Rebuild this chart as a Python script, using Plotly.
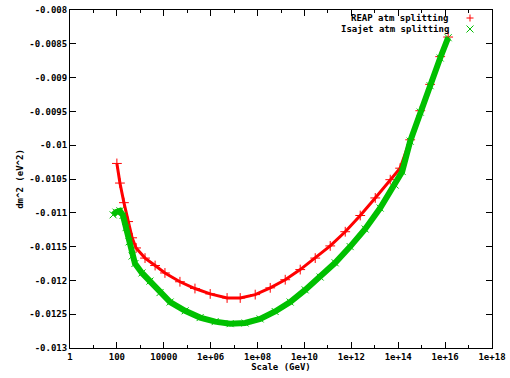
import plotly.graph_objects as go

# log10(Scale / GeV) and dm^2 (eV^2)
reap_log_scale = [2.0, 2.13, 2.30, 2.48, 2.65, 2.82, 3.2, 3.63, 4.05, 4.69, 5.33, 5.98, 6.7, 7.26,
                  7.9, 8.54, 9.18, 9.82, 10.46, 11.1, 11.74, 12.38, 13.02, 13.66, 14.08,
                  14.51, 14.94, 15.36, 15.79, 16.13]
reap_dm2 = [-0.01027, -0.01056, -0.01085, -0.01113, -0.01137, -0.01152, -0.01167, -0.01178, -0.01189,
            -0.01202, -0.01212, -0.0122, -0.01226, -0.01226, -0.01221, -0.01211, -0.01199, -0.01184,
            -0.01167, -0.01149, -0.01128, -0.01104, -0.01078, -0.01051, -0.01034,
            -0.00992, -0.00949, -0.0091, -0.00869, -0.0084]

isajet_log_scale = [1.84, 1.96, 2.13, 2.26, 2.39, 2.52, 2.65, 2.77, 3.07, 3.41, 3.84, 4.27, 4.91, 5.55,
                    6.19, 6.83, 7.47, 8.11, 8.75, 9.39, 10.03, 10.67, 11.31, 11.95, 12.59, 13.23,
                    13.87, 14.17, 14.51, 14.94, 15.36, 15.79, 16.13]
isajet_dm2 = [-0.01103, -0.01099, -0.01097, -0.01104, -0.01122, -0.01143, -0.01164, -0.01175, -0.01189,
              -0.01201, -0.01218, -0.01232, -0.01245, -0.01255, -0.01261, -0.01264, -0.01263, -0.01257,
              -0.01246, -0.01232, -0.01214, -0.01195, -0.01174, -0.0115, -0.01124, -0.01093,
              -0.01059, -0.01039, -0.00994, -0.00951, -0.00912, -0.00871, -0.00841]

x_tick_exps = [0, 2, 4, 6, 8, 10, 12, 14, 16, 18]
x_tick_labels = ["1", "100", "10000", "1e+06", "1e+08", "1e+10", "1e+12", "1e+14", "1e+16", "1e+18"]
x_minor_exps = [1, 3, 5, 7, 9, 11, 13, 15, 17]
y_tick_vals = [-0.013, -0.0125, -0.012, -0.0115, -0.011, -0.0105, -0.01, -0.0095, -0.009, -0.0085, -0.008]
y_tick_labels = ["-0.013", "-0.0125", "-0.012", "-0.0115", "-0.011", "-0.0105", "-0.01",
                 "-0.0095", "-0.009", "-0.0085", "-0.008"]
series_names = ["REAP atm splitting", "Isajet atm splitting"]

RED = "#ff0000"
GREEN = "#00c000"
FONT = dict(family="DejaVu Sans Mono", size=9, color="black")
TICKFONT = dict(family="DejaVu Sans Mono", size=9, color="black", weight="bold")

fig = go.Figure()
fig.add_trace(go.Scatter(
    x=[10 ** e for e in reap_log_scale], y=reap_dm2, mode="lines+markers",
    line=dict(color=RED, width=3),
    marker=dict(symbol="cross-thin", size=7, color=RED, line=dict(width=1, color=RED)),
    name=series_names[0], showlegend=False, hoverinfo="skip"))
fig.add_trace(go.Scatter(
    x=[10 ** e for e in isajet_log_scale], y=isajet_dm2, mode="lines+markers",
    line=dict(color=GREEN, width=6),
    marker=dict(symbol="x-thin", size=7, color=GREEN, line=dict(width=1, color=GREEN)),
    name=series_names[1], showlegend=False, hoverinfo="skip"))

W, H = 510, 378
ML, MR, MT, MB = 70, 18, 10, 30

fig.update_layout(
    width=W, height=H,
    margin=dict(l=ML, r=MR, t=MT, b=MB),
    paper_bgcolor="white", plot_bgcolor="white",
    font=FONT,
    xaxis=dict(
        type="log", range=[0, 18], automargin=False,
        tickvals=[10 ** e for e in x_tick_exps], ticktext=x_tick_labels,
        ticks="inside", ticklen=6, tickcolor="black",
        minor=dict(tickvals=[10 ** e for e in x_minor_exps], ticks="inside", ticklen=3, tickcolor="black"),
        showline=True, linecolor="black", linewidth=1, mirror="allticks",
        showgrid=False, zeroline=False,
        title=dict(text="<b>Scale (GeV)</b>", font=FONT, standoff=2),
        tickfont=TICKFONT,
    ),
    yaxis=dict(
        range=[-0.013, -0.008], automargin=False,
        tickvals=y_tick_vals, ticktext=y_tick_labels,
        ticks="inside", ticklen=6, tickcolor="black",
        showline=True, linecolor="black", linewidth=1, mirror="allticks",
        showgrid=False, zeroline=False,
        title=dict(text="<b>dm^2 (eV^2)</b>", font=FONT, standoff=4),
        tickfont=TICKFONT,
    ),
)

# manual key in gnuplot style: text right-aligned, sample symbol to its right
pw, ph = W - ML - MR, H - MT - MB
def px(x):
    return (x - ML) / pw
def py(y):
    return 1 - (y - MT) / ph

rows = [(18, RED, "plus"), (29, GREEN, "x")]
for (ry, col, kind), name in zip(rows, series_names):
    fig.add_annotation(xref="paper", yref="paper", x=px(451), y=py(ry), xanchor="right", yanchor="middle",
                       text="<b>%s</b>" % name, showarrow=False, font=FONT)
    cx, cy, s = 470, ry, 3.5
    if kind == "plus":
        segs = [((cx - s, cy), (cx + s, cy)), ((cx, cy - s), (cx, cy + s))]
    else:
        segs = [((cx - s, cy - s), (cx + s, cy + s)), ((cx - s, cy + s), (cx + s, cy - s))]
    for (x0, y0), (x1, y1) in segs:
        fig.add_shape(type="line", xref="paper", yref="paper", x0=px(x0), y0=py(y0), x1=px(x1), y1=py(y1),
                      line=dict(color=col, width=1))

fig.write_html("out.html", config={"displayModeBar": False},
               post_script="document.body.style.margin='0px';")
